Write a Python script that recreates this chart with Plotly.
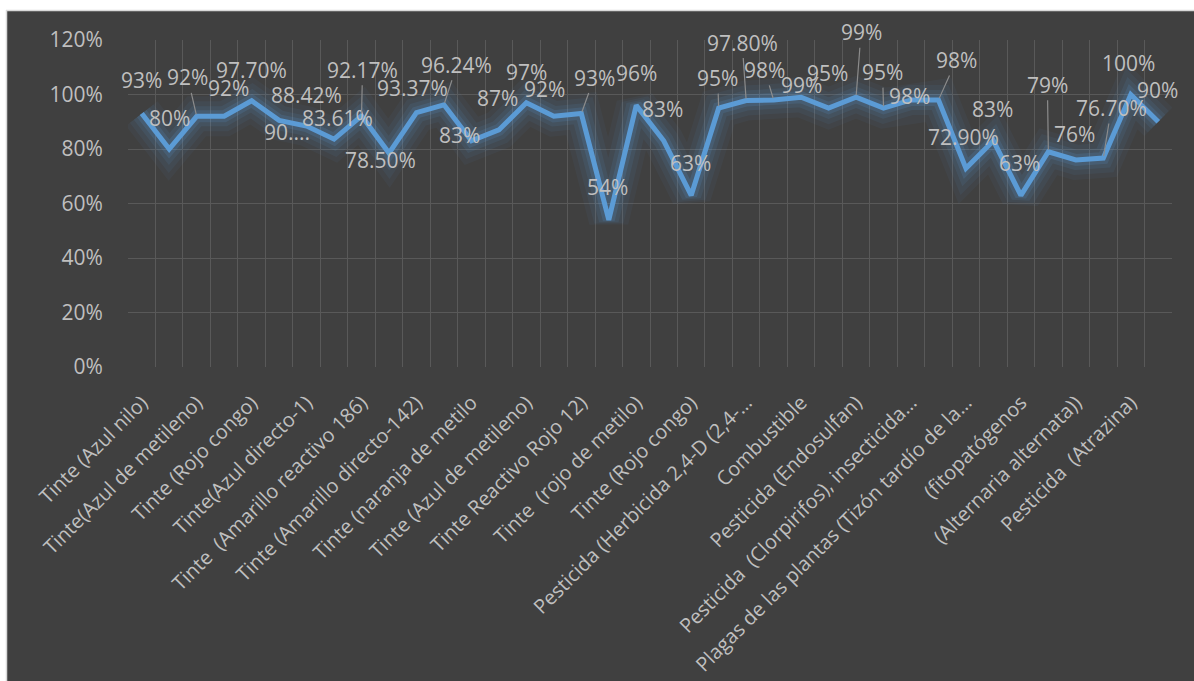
import plotly.graph_objects as go

# ---------------- data ----------------
values = [0.93, 0.80, 0.92, 0.92, 0.977, 0.905, 0.8842, 0.8361, 0.9217, 0.785,
          0.9337, 0.9624, 0.83, 0.87, 0.97, 0.92, 0.93, 0.54, 0.96, 0.83,
          0.63, 0.95, 0.978, 0.98, 0.99, 0.95, 0.99, 0.95, 0.98, 0.98,
          0.729, 0.83, 0.63, 0.79, 0.76, 0.767, 1.00, 0.90]

label_texts = ["93%", "80%", "92%", "92%", "97.70%", "90....", "88.42%", "83.61%", "92.17%", "78.50%",
               "93.37%", "96.24%", "83%", "87%", "97%", "92%", "93%", "54%", "96%", "83%",
               "63%", "95%", "97.80%", "98%", "99%", "95%", "99%", "95%", "98%", "98%",
               "72.90%", "83%", "63%", "79%", "76%", "76.70%", "100%", "90%"]

tick_labels = ["Tinte (Azul nilo)", "Tinte(Azul de metileno)", "Tinte (Rojo congo)",
               "Tinte(Azul directo-1)", "Tinte \u00a0(Amarillo reactivo 186)",
               "Tinte (Amarillo directo-142)", "Tinte (naranja de metilo",
               "Tinte (Azul de metileno)", "Tinte Reactivo Rojo 12)",
               "Tinte \u00a0(rojo de metilo)", "Tinte (Rojo congo)",
               "Pesticida (Herbicida 2,4-D (2,4-…", "Combustible",
               "Pesticida (Endosulfan)", "Pesticida \u00a0(Clorpirifos), insecticida…",
               "Plagas de las plantas (Tizón tardío de la…", "(fitopatógenos",
               "(Alternaria alternata))", "Pesticida \u00a0(Atrazina)"]

# label offsets (pixels, label centre relative to point) and leader-line flags
label_dx = [0, 0, -9, 4, 0, 8, 0, 3, 1, -9, -4, 13, -12, -1, 0, -9, 13, -1, 0, -1,
            -1, -1, -4, -9, 0, -1, 5, -1, -2, 18, -2, -1, -1, -1, -1, 8, -2, -1]
label_dy = [-34, -31, -39, -28, -31, 12, -31, -21, -46, 7, -25, -40, -6, -32, -31, -27, -36, -33, -32, -32,
            -32, -30, -58, -30, -12, -35, -65, -36, -4, -40, -31, -32, -32, -67, -26, -50, -32, -32]
leader = [0, 0, 1, 0, 0, 0, 0, 0, 1, 0, 0, 1, 0, 0, 0, 0, 1, 0, 0, 0,
          0, 1, 1, 1, 0, 0, 1, 1, 0, 1, 0, 0, 0, 1, 0, 1, 0, 0]

# ---------------- layout geometry / styles ----------------
W, H = 1194, 681
ML, MR, MT, MB = 128, 22, 40, 314
PW, PH = W - ML - MR, H - MT - MB
BG = "#404040"
TXT = "#bfbfbf"
GRID = "#595959"
LINE = "#5B9BD5"
FONT = "Open Sans, DejaVu Sans, sans-serif"

def px_x(p):
    return (p - ML) / PW

def px_y(p):
    return (MT + PH - p) / PH

xs = list(range(len(values)))

fig = go.Figure()

# glow layers
for w, op in [(40, 0.05), (30, 0.07), (20, 0.10), (12, 0.16)]:
    fig.add_trace(go.Scatter(x=xs, y=values, mode="lines",
                             line=dict(color=LINE, width=w), opacity=op,
                             hoverinfo="skip", showlegend=False))

fig.add_trace(go.Scatter(x=xs, y=values, mode="lines",
                         line=dict(color=LINE, width=5),
                         hoverinfo="skip", showlegend=False))

annotations = []
for i, (v, t) in enumerate(zip(values, label_texts)):
    if leader[i]:
        annotations.append(dict(x=i, y=v, xref="x", yref="y", text=t,
                                showarrow=True, arrowhead=0, arrowwidth=1.2,
                                arrowcolor="#8c8c8c", ax=label_dx[i], ay=label_dy[i],
                                standoff=2, font=dict(family=FONT, size=21, color=TXT)))
    else:
        annotations.append(dict(x=i, y=v, xref="x", yref="y", text=t,
                                showarrow=False, xshift=label_dx[i], yshift=-label_dy[i],
                                font=dict(family=FONT, size=21, color=TXT)))

shapes = [
    # white page strip at top and left
    dict(type="rect", xref="paper", yref="paper", x0=px_x(-5), x1=px_x(W + 5), y0=px_y(10), y1=px_y(-5),
         fillcolor="white", line=dict(width=0), layer="below"),
    dict(type="rect", xref="paper", yref="paper", x0=px_x(-5), x1=px_x(6), y0=px_y(H + 5), y1=px_y(-5),
         fillcolor="white", line=dict(width=0), layer="below"),
    # light border of the chart area
    dict(type="line", xref="paper", yref="paper", x0=px_x(6), x1=px_x(W), y0=px_y(10.5), y1=px_y(10.5),
         line=dict(color="#d9d9d9", width=1.5), layer="below"),
    dict(type="line", xref="paper", yref="paper", x0=px_x(6.5), x1=px_x(6.5), y0=px_y(10), y1=px_y(H),
         line=dict(color="#d9d9d9", width=1.5), layer="below"),
]

fig.update_layout(
    width=W, height=H,
    margin=dict(l=ML, r=MR, t=MT, b=MB, pad=0),
    paper_bgcolor=BG, plot_bgcolor=BG,
    showlegend=False,
    annotations=annotations,
    shapes=shapes,
    font=dict(family=FONT, color=TXT),
    xaxis=dict(range=[-0.5, len(values) - 0.5], tickmode="array",
               tickvals=xs[::2], ticktext=tick_labels, tickangle=-45,
               tickfont=dict(family=FONT, size=20, color=TXT), automargin=False,
               showgrid=False, zeroline=False, showline=False,
               ticks="outside", ticklen=15, tickcolor="rgba(0,0,0,0)",
               minor=dict(tickmode="linear", tick0=-0.5, dtick=1, showgrid=True,
                          gridcolor=GRID, gridwidth=1, ticks="")),
    yaxis=dict(range=[0, 1.2], tickmode="array", tickvals=[0, 0.2, 0.4, 0.6, 0.8, 1.0, 1.2],
               tickformat=".0%", tickfont=dict(family=FONT, size=21, color=TXT), automargin=False,
               showgrid=True, gridcolor=GRID, gridwidth=1, zeroline=False,
               ticks="outside", ticklen=20, tickcolor="rgba(0,0,0,0)"),
)

fig.write_html("out.html", config={"displayModeBar": False},
               post_script="document.body.style.margin='0';document.body.style.overflow='hidden';")
